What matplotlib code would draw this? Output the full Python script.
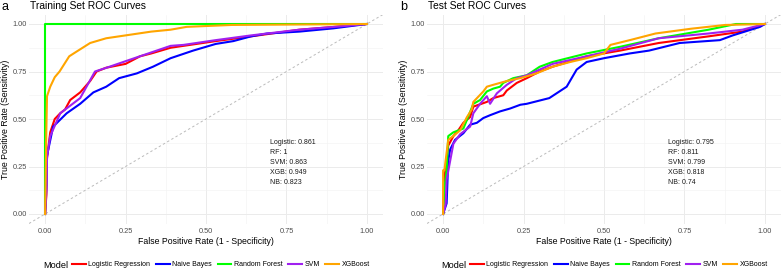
import matplotlib
matplotlib.use("Agg")
import matplotlib.pyplot as plt
from matplotlib.lines import Line2D
import numpy as np

plt.rcParams['font.family'] = ['Liberation Sans', 'DejaVu Sans']

models = ["Logistic Regression", "Naive Bayes", "Random Forest", "SVM", "XGBoost"]
colors = ["#FF0000", "#0000FF", "#00FF00", "#A020F0", "#FFA500"]

# ---- Training set ROC curves (FPR, TPR) ----
train_lr_fpr = [0, 0.004, 0.005, 0.016, 0.03, 0.047, 0.062, 0.078, 0.109, 0.14, 0.16, 0.19, 0.25, 0.295, 0.33, 0.39, 0.53, 0.64, 0.79, 0.9, 1.0]
train_lr_tpr = [0, 0.10, 0.28, 0.43, 0.50, 0.53, 0.55, 0.60, 0.64, 0.70, 0.75, 0.77, 0.79, 0.83, 0.845, 0.875, 0.91, 0.935, 0.97, 0.985, 1.0]
train_nb_fpr = [0, 0.004, 0.005, 0.025, 0.067, 0.109, 0.15, 0.19, 0.23, 0.285, 0.335, 0.39, 0.46, 0.53, 0.585, 0.64, 0.69, 0.79, 0.895, 1.0]
train_nb_tpr = [0, 0.15, 0.30, 0.46, 0.53, 0.58, 0.64, 0.67, 0.715, 0.74, 0.775, 0.82, 0.86, 0.895, 0.91, 0.935, 0.95, 0.96, 0.977, 1.0]
train_rf_fpr = [0, 0.0, 1.0]
train_rf_tpr = [0, 1.0, 1.0]
train_svm_fpr = [0, 0.004, 0.006, 0.016, 0.047, 0.109, 0.155, 0.20, 0.26, 0.39, 0.43, 0.53, 0.64, 0.79, 0.9, 1.0]
train_svm_tpr = [0, 0.12, 0.30, 0.41, 0.53, 0.61, 0.75, 0.775, 0.81, 0.885, 0.89, 0.915, 0.94, 0.97, 0.985, 1.0]
train_xgb_fpr = [0, 0.004, 0.006, 0.016, 0.03, 0.045, 0.06, 0.075, 0.098, 0.14, 0.19, 0.25, 0.33, 0.39, 0.44, 0.58, 1.0]
train_xgb_tpr = [0, 0.45, 0.62, 0.67, 0.72, 0.75, 0.79, 0.83, 0.855, 0.90, 0.925, 0.94, 0.96, 0.97, 0.985, 0.995, 1.0]

# ---- Test set ROC curves (FPR, TPR) ----
test_lr_fpr = [0, 0.005, 0.016, 0.032, 0.047, 0.063, 0.084, 0.094, 0.136, 0.156, 0.187, 0.198, 0.229, 0.26, 0.30, 0.34, 0.446, 0.55, 0.67, 0.825, 0.93, 1.0]
test_lr_tpr = [0, 0.20, 0.36, 0.41, 0.44, 0.48, 0.51, 0.565, 0.59, 0.61, 0.625, 0.65, 0.69, 0.715, 0.75, 0.775, 0.83, 0.86, 0.90, 0.935, 0.96, 1.0]
test_nb_fpr = [0, 0.011, 0.016, 0.022, 0.037, 0.063, 0.084, 0.105, 0.125, 0.146, 0.177, 0.208, 0.24, 0.26, 0.33, 0.384, 0.415, 0.446, 0.50, 0.58, 0.64, 0.735, 0.86, 0.90, 0.985, 1.0]
test_nb_tpr = [0, 0.056, 0.28, 0.34, 0.39, 0.425, 0.47, 0.48, 0.505, 0.52, 0.54, 0.555, 0.575, 0.58, 0.61, 0.67, 0.76, 0.80, 0.82, 0.845, 0.86, 0.90, 0.915, 0.94, 0.985, 1.0]
test_rf_fpr = [0, 0.005, 0.011, 0.016, 0.032, 0.063, 0.074, 0.094, 0.115, 0.136, 0.156, 0.177, 0.187, 0.218, 0.26, 0.30, 0.34, 0.446, 0.55, 0.67, 0.825, 0.91, 1.0]
test_rf_tpr = [0, 0.15, 0.23, 0.41, 0.43, 0.45, 0.495, 0.58, 0.60, 0.645, 0.66, 0.67, 0.69, 0.715, 0.73, 0.775, 0.80, 0.845, 0.88, 0.925, 0.97, 1.0, 1.0]
test_svm_fpr = [0, 0.008, 0.011, 0.022, 0.032, 0.053, 0.084, 0.094, 0.115, 0.136, 0.146, 0.167, 0.198, 0.229, 0.26, 0.30, 0.34, 0.446, 0.55, 0.67, 0.825, 0.93, 1.0]
test_svm_tpr = [0, 0.05, 0.18, 0.28, 0.37, 0.42, 0.46, 0.53, 0.58, 0.62, 0.58, 0.635, 0.68, 0.715, 0.73, 0.76, 0.79, 0.83, 0.87, 0.925, 0.95, 0.97, 1.0]
test_xgb_fpr = [0, 0.0, 0.004, 0.016, 0.031, 0.053, 0.074, 0.089, 0.094, 0.125, 0.136, 0.156, 0.198, 0.24, 0.29, 0.34, 0.395, 0.446, 0.50, 0.52, 0.58, 0.66, 0.77, 0.877, 1.0]
test_xgb_tpr = [0, 0.23, 0.23, 0.39, 0.41, 0.44, 0.51, 0.55, 0.59, 0.645, 0.67, 0.68, 0.70, 0.715, 0.74, 0.775, 0.80, 0.82, 0.845, 0.89, 0.915, 0.95, 0.975, 0.995, 1.0]

train_auc_labels = ["Logistic: 0.861", "RF: 1", "SVM: 0.863", "XGB: 0.949", "NB: 0.823"]
test_auc_labels = ["Logistic: 0.795", "RF: 0.811", "SVM: 0.799", "XGB: 0.818", "NB: 0.74"]

train_curves = [(train_lr_fpr, train_lr_tpr), (train_nb_fpr, train_nb_tpr), (train_rf_fpr, train_rf_tpr),
                (train_svm_fpr, train_svm_tpr), (train_xgb_fpr, train_xgb_tpr)]
test_curves = [(test_lr_fpr, test_lr_tpr), (test_nb_fpr, test_nb_tpr), (test_rf_fpr, test_rf_tpr),
               (test_svm_fpr, test_svm_tpr), (test_xgb_fpr, test_xgb_tpr)]

ticks = [0, 0.25, 0.5, 0.75, 1.0]
tick_labels = ["0.00", "0.25", "0.50", "0.75", "1.00"]
minor = [0.125, 0.375, 0.625, 0.875]

fig = plt.figure(figsize=(7.84, 2.72), dpi=100)
W, H = 784, 272

def px_axes(l, r, t, b):
    return [l / W, 1 - b / H, (r - l) / W, (b - t) / H]

panels = [
    ("a", "Training Set ROC Curves", train_curves, train_auc_labels, 0),
    ("b", "Test Set ROC Curves", test_curves, test_auc_labels, 398),
]

for tag, title, curves, labels, off in panels:
    ax = fig.add_axes(px_axes(29 + off, 383 + off, 14.5, 223.5))
    ax.set_xlim(-0.05, 1.05)
    ax.set_ylim(-0.05, 1.05)
    for s in ax.spines.values():
        s.set_visible(False)
    ax.set_xticks(ticks)
    ax.set_xticklabels(tick_labels)
    ax.set_yticks(ticks)
    ax.set_yticklabels(tick_labels)
    ax.set_xticks(minor, minor=True)
    ax.set_yticks(minor, minor=True)
    ax.tick_params(which='both', length=0, labelsize=5.3, labelcolor="#4D4D4D")
    ax.tick_params(axis='x', pad=3.0)
    ax.tick_params(axis='y', pad=1.5)
    ax.grid(which='major', color="#EBEBEB", lw=0.7)
    ax.grid(which='minor', color="#F2F2F2", lw=0.4)
    ax.set_axisbelow(True)
    ax.axline((0, 0), (1, 1), color="#BBBBBB", lw=0.7, ls=(0, (2.5, 2.5)), zorder=1)
    for (fx, ty), c in zip(curves, colors):
        ax.plot(fx, ty, color=c, lw=1.5, zorder=2)
    for i, lab in enumerate(labels):
        ax.text(0.7, 0.375 - i * 0.052, lab, fontsize=5, color="#1A1A1A", ha='left', va='center')
    ax.set_xlabel("False Positive Rate (1 - Specificity)", fontsize=6.3, color="#000000", labelpad=1.5)
    ax.set_ylabel("True Positive Rate (Sensitivity)", fontsize=6.3, color="#000000", labelpad=2)
    fig.text((30 + off) / W, 1 - 6 / H, title, fontsize=7.4, ha='left', va='center')
    fig.text((2 + off) / W, 1 - 6.5 / H, tag, fontsize=9, ha='left', va='center')

    handles = [Line2D([0], [0], color=c, lw=1.5) for c in colors]
    fig.text((43 + off) / W, 1 - 265 / H, "Model", fontsize=6.6, ha='left', va='center')
    leg = fig.legend(handles, models, loc='center left', bbox_to_anchor=((72 + off) / W, 1 - 265 / H),
                     ncol=5, frameon=False, fontsize=5, handlelength=2.0, handletextpad=0.35,
                     columnspacing=0.8, borderpad=0, borderaxespad=0)

fig.savefig("out.png", dpi=100)
